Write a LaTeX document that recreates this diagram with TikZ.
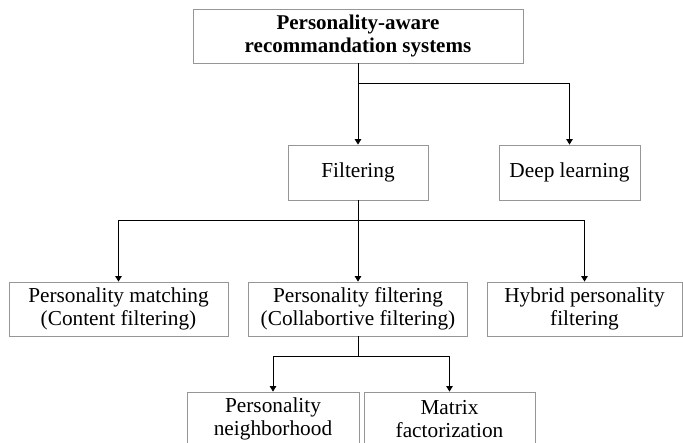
\documentclass[tikz,border=0pt]{standalone}
\usepackage{fontspec}
\setmainfont{Liberation Serif}
\usetikzlibrary{arrows.meta}
\definecolor{boxgray}{RGB}{150,150,150}
\begin{document}
\begin{tikzpicture}[x=1pt,y=-1pt,
  box/.style={draw=boxgray, line width=0.8pt, align=center, inner sep=0pt,
    font=\fontsize{21.3}{23.5}\selectfont},
  conn/.style={line width=1pt, -{Triangle[length=5.5pt,width=6.5pt]}},
  plain/.style={line width=1pt}]
\useasboundingbox (0,0) rectangle (683,443);
\node[box, minimum width=330, minimum height=54, font=\fontsize{21}{23.5}\selectfont\bfseries] (top) at (358,36) {Personality-aware\\recommandation systems};
\node[box, minimum width=140, minimum height=55] (filt) at (358,172.5) {Filtering};
\node[box, minimum width=141, minimum height=55] (deep) at (569.5,172.5) {Deep learning};
\node[box, minimum width=219, minimum height=54] (pm) at (118.5,309) {Personality matching\\(Content filtering)};
\node[box, minimum width=219, minimum height=54] (pf) at (358,309) {Personality filtering\\(Collabortive filtering)};
\node[box, minimum width=195, minimum height=54] (hy) at (584.5,309) {Hybrid personality\\filtering};
\node[box, minimum width=172, minimum height=54] (pn) at (273,419) {Personality\\neighborhood};
\node[box, minimum width=171, minimum height=54] (mf) at (449.5,419) {Matrix\\factorization};
% connectors
\draw[conn] (top.south) -- (filt.north);
\coordinate (b1) at (358,84);
\draw[conn] (b1) -| (deep.north);
\coordinate (b2) at (358,221);
\draw[plain] (filt.south) -- (b2);
\draw[conn] (b2) -| (pm.north);
\draw[conn] (b2) -| (hy.north);
\draw[conn] (b2) -- (pf.north);
\coordinate (b3) at (358,357);
\draw[plain] (pf.south) -- (b3);
\draw[conn] (b3) -| (pn.north);
\draw[conn] (b3) -| (mf.north);
\end{tikzpicture}
\end{document}
